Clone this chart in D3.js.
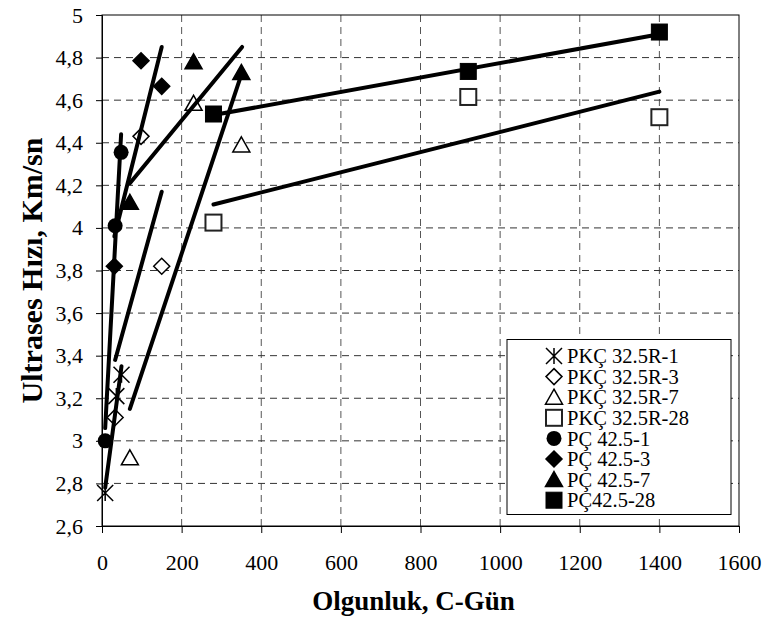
<!DOCTYPE html>
<html>
<head>
<meta charset="utf-8">
<script src="https://cdn.jsdelivr.net/npm/d3@7"></script>
<style>
  body { margin: 0; background: #fff; }
  svg { display: block; font-family: "Liberation Serif", "Times New Roman", serif; }
</style>
</head>
<body>
<svg width="765" height="618"></svg>
<script>
// series names (legend order)
var seriesNames = ['PKÇ 32.5R-1', 'PKÇ 32.5R-3', 'PKÇ 32.5R-7', 'PKÇ 32.5R-28',
                   'PÇ 42.5-1', 'PÇ 42.5-3', 'PÇ 42.5-7', 'PÇ42.5-28'];

// maturity (C-day) and pulse velocity (km/s)
var pkc1X = [8, 36, 49],      pkc1Y = [2.755, 3.21, 3.31];
var pkc3X = [33, 98, 150],    pkc3Y = [3.11, 4.43, 3.82];
var pkc7X = [70, 230, 350],   pkc7Y = [2.92, 4.585, 4.39];
var pkc28X = [280, 920, 1400], pkc28Y = [4.025, 4.615, 4.52];
var pc1X = [8, 33, 48],       pc1Y = [3.0, 4.01, 4.355];
var pc3X = [31, 98, 150],     pc3Y = [3.82, 4.785, 4.665];
var pc7X = [70, 230, 350],    pc7Y = [4.12, 4.78, 4.73];
var pc28X = [280, 920, 1400], pc28Y = [4.535, 4.735, 4.92];

// trend line ends [x0, y0, x1, y1]
var trendPkc1 = [8, 2.78, 49, 3.35];
var trendPkc3 = [33, 3.38, 150, 4.17];
var trendPkc7 = [70, 3.15, 350, 4.72];
var trendPkc28 = [280, 4.11, 1400, 4.64];
var trendPc1 = [8, 3.06, 48, 4.44];
var trendPc3 = [31, 3.96, 150, 4.85];
var trendPc7 = [70, 4.21, 352, 4.85];
var trendPc28 = [280, 4.53, 1400, 4.91];

var xTicks = [0, 200, 400, 600, 800, 1000, 1200, 1400, 1600];
var yTicks = [2.6, 2.8, 3, 3.2, 3.4, 3.6, 3.8, 4, 4.2, 4.4, 4.6, 4.8, 5];

var xTitle = 'Olgunluk, C-Gün';
var yTitle = 'Ultrases Hızı, Km/sn';

var margin = {top: 15, right: 26, bottom: 92, left: 102};
var svg = d3.select('svg');
var width = 765 - margin.left - margin.right;
var height = 618 - margin.top - margin.bottom;

var x = d3.scaleLinear().domain([0, 1600]).range([0, width]);
var y = d3.scaleLinear().domain([2.6, 5]).range([height, 0]);

var g = svg.append('g').attr('transform', 'translate(' + margin.left + ',' + margin.top + ')');

// grid
g.selectAll('.vgrid').data(xTicks.slice(1, -1)).enter().append('line')
  .attr('x1', x).attr('x2', x).attr('y1', 0).attr('y2', height)
  .attr('stroke', '#555').attr('stroke-dasharray', '7,5');
g.selectAll('.hgrid').data(yTicks.slice(1, -1)).enter().append('line')
  .attr('y1', y).attr('y2', y).attr('x1', 0).attr('x2', width)
  .attr('stroke', '#333').attr('stroke-dasharray', '7,5');

// frame
g.append('rect').attr('width', width).attr('height', height)
  .attr('fill', 'none').attr('stroke', '#000');

var xAxis = g.append('g').attr('transform', 'translate(0,' + height + ')')
  .call(d3.axisBottom(x).tickValues(xTicks).tickSize(7).tickPadding(21).tickFormat(d3.format('d')));
var yAxis = g.append('g')
  .call(d3.axisLeft(y).tickValues(yTicks).tickSize(6).tickPadding(13)
    .tickFormat(function (d) { return String(+d.toFixed(1)).replace('.', ','); }));
[xAxis, yAxis].forEach(function (a) {
  a.attr('font-family', null);
  a.select('.domain').attr('stroke', '#000');
  a.selectAll('line').attr('stroke', '#000');
  a.selectAll('text').attr('font-size', 22).attr('fill', '#000');
});

// symbols
var sz = 8;
var shapes = {
  asterisk: function (s) {
    s.append('path').attr('d', 'M' + -sz + ',' + -sz + 'L' + sz + ',' + sz + 'M' + -sz + ',' + sz + 'L' + sz + ',' + -sz + 'M0,' + -sz + 'L0,' + sz)
      .attr('stroke', '#000').attr('stroke-width', 1.5).attr('fill', 'none');
  },
  diamond: function (s, filled) {
    s.append('path').attr('d', 'M0,' + -sz + 'L' + sz + ',0L0,' + sz + 'L' + -sz + ',0Z')
      .attr('stroke', '#000').attr('stroke-width', 1.5).attr('fill', filled ? '#000' : '#fff');
  },
  triangle: function (s, filled) {
    s.append('path').attr('d', 'M0,' + -sz + 'L' + (sz + 0.5) + ',' + (sz - 1) + 'L' + -(sz + 0.5) + ',' + (sz - 1) + 'Z')
      .attr('stroke', '#000').attr('stroke-width', 1.5).attr('fill', filled ? '#000' : '#fff');
  },
  square: function (s, filled) {
    s.append('rect').attr('x', -sz).attr('y', -sz).attr('width', 2 * sz).attr('height', 2 * sz)
      .attr('stroke', filled ? '#000' : '#222').attr('stroke-width', filled ? 1 : 2).attr('fill', filled ? '#000' : '#fff');
  },
  circle: function (s) {
    s.append('circle').attr('r', 7.5).attr('fill', '#000');
  }
};

var series = [
  {xs: pkc1X, ys: pkc1Y, trend: trendPkc1, shape: 'asterisk', filled: false},
  {xs: pkc3X, ys: pkc3Y, trend: trendPkc3, shape: 'diamond', filled: false},
  {xs: pkc7X, ys: pkc7Y, trend: trendPkc7, shape: 'triangle', filled: false},
  {xs: pkc28X, ys: pkc28Y, trend: trendPkc28, shape: 'square', filled: false},
  {xs: pc1X, ys: pc1Y, trend: trendPc1, shape: 'circle', filled: true},
  {xs: pc3X, ys: pc3Y, trend: trendPc3, shape: 'diamond', filled: true},
  {xs: pc7X, ys: pc7Y, trend: trendPc7, shape: 'triangle', filled: true},
  {xs: pc28X, ys: pc28Y, trend: trendPc28, shape: 'square', filled: true}
];
series.forEach(function (s, i) { s.name = seriesNames[i]; });

// points first, trend lines on top like the original
var pts = g.append('g');
series.forEach(function (s) {
  s.xs.forEach(function (xv, j) {
    var m = pts.append('g').attr('transform', 'translate(' + x(xv) + ',' + y(s.ys[j]) + ')');
    shapes[s.shape](m, s.filled);
  });
});
g.append('g').selectAll('line').data(series).enter().append('line')
  .attr('x1', function (d) { return x(d.trend[0]); })
  .attr('y1', function (d) { return y(d.trend[1]); })
  .attr('x2', function (d) { return x(d.trend[2]); })
  .attr('y2', function (d) { return y(d.trend[3]); })
  .attr('stroke', '#000').attr('stroke-width', 4).attr('stroke-linecap', 'round');

// legend
var lg = svg.append('g');
lg.append('rect').attr('x', 507).attr('y', 339.5).attr('width', 224).attr('height', 175)
  .attr('fill', '#fff').attr('stroke', '#000');
series.forEach(function (s, i) {
  var row = lg.append('g').attr('transform', 'translate(554,' + (356 + i * 20.6) + ')');
  shapes[s.shape](row, s.filled);
  row.append('text').attr('x', 13).attr('dy', '0.35em').attr('font-size', 20.5).text(s.name);
});

// titles
svg.append('text').attr('x', margin.left + width / 2 - 7).attr('y', 610)
  .attr('text-anchor', 'middle').attr('font-weight', 'bold').attr('font-size', 27).text(xTitle);
svg.append('text').attr('transform', 'translate(42,' + (margin.top + height / 2) + ') rotate(-90)')
  .attr('text-anchor', 'middle').attr('font-weight', 'bold').attr('font-size', 30).text(yTitle);
</script>
</body>
</html>
